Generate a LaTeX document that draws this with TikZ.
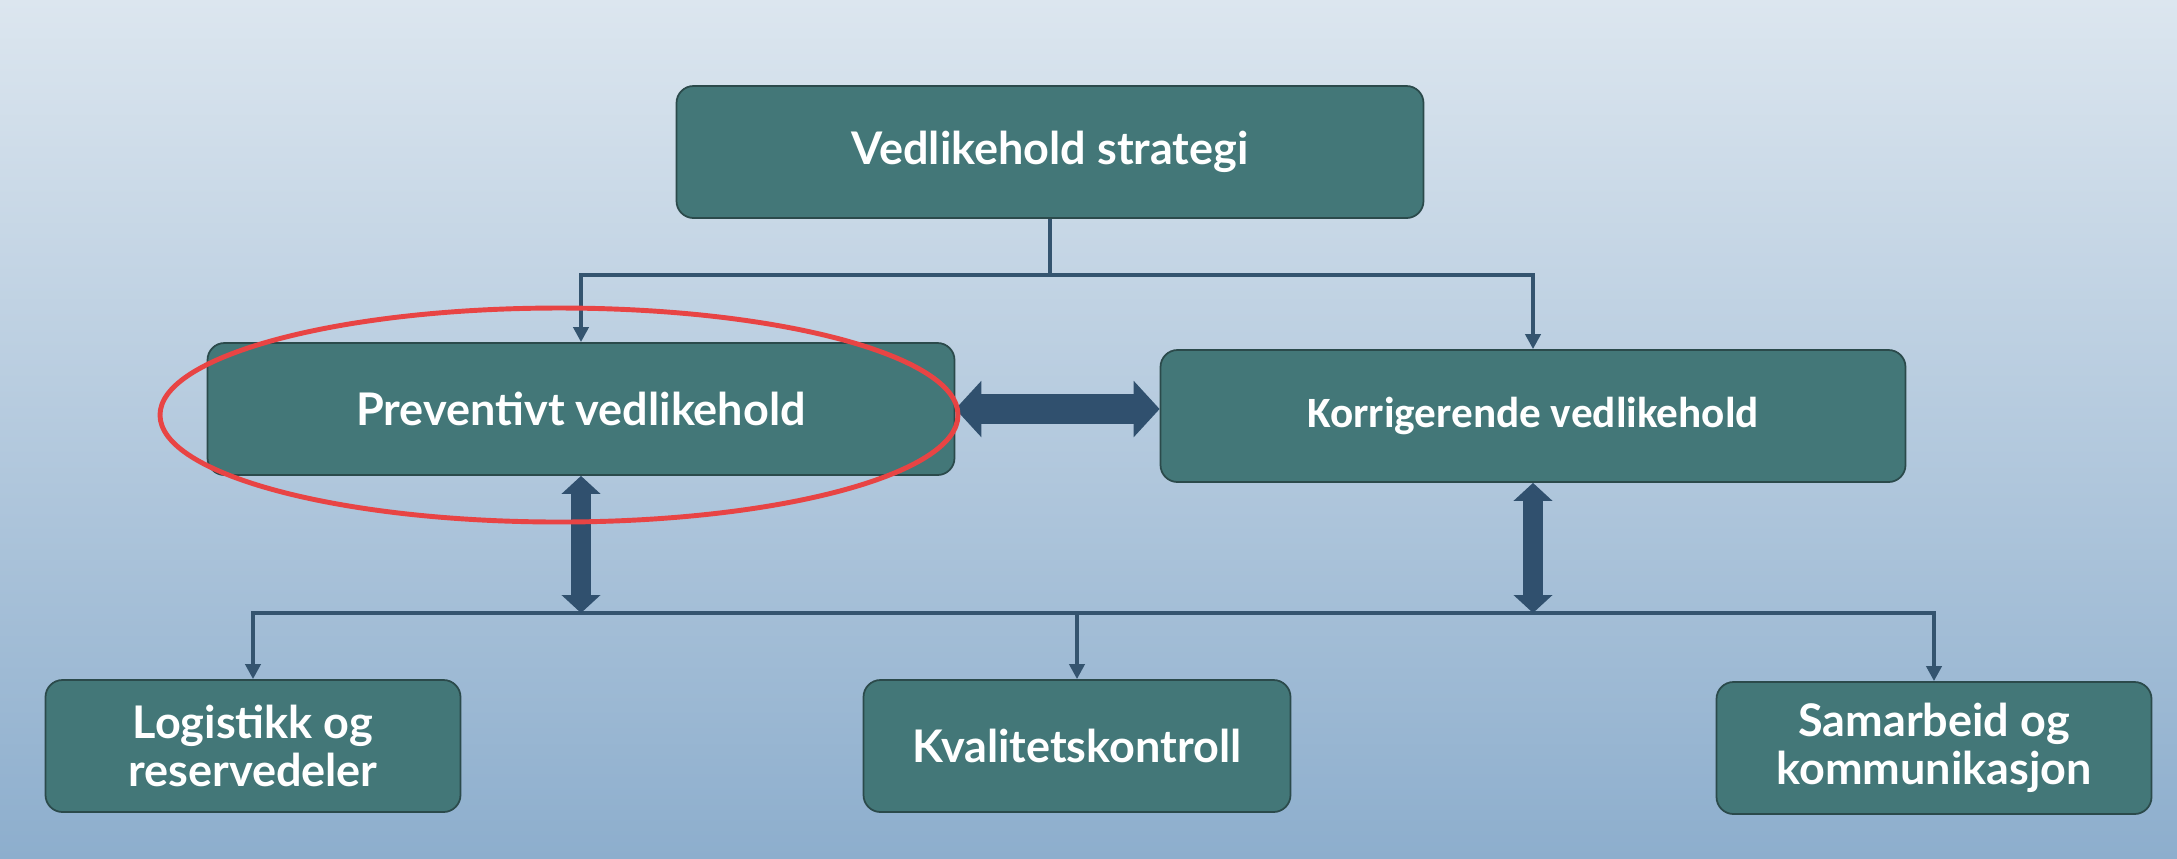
\documentclass[tikz,border=0pt]{standalone}
\usepackage{fontspec}
\setmainfont{Lato}
\newfontfamily\calfont{Carlito}
\usepackage{xcolor}
\usetikzlibrary{arrows.meta}

\definecolor{boxfill}{HTML}{437778}
\definecolor{boxline}{HTML}{2B4A4B}
\definecolor{linkblue}{HTML}{34546F}
\definecolor{bigblue}{HTML}{30506E}
\definecolor{bgtop}{HTML}{DCE6EF}
\definecolor{bgbottom}{HTML}{8DAECD}
\definecolor{markred}{HTML}{E84444}

\tikzset{
  box/.style={draw=boxline,line width=0.5pt,fill=boxfill,rounded corners=1.7mm,
    text=white,align=center,inner sep=0pt,minimum height=13.2mm,
    font=\bfseries\fontsize{12.8}{13.6}\selectfont},
  link/.style={draw=linkblue,line width=1.1pt,-{Triangle[width=1.5mm,length=1.5mm]}},
  plainlink/.style={draw=linkblue,line width=1.1pt},
  duplex/.style={draw=bigblue,line width=3mm,
    {Triangle[width=5.5mm,length=2.6mm]}-{Triangle[width=5.5mm,length=2.6mm]}},
  riser/.style={draw=bigblue,line width=2mm,
    {Triangle[width=3.8mm,length=1.8mm]}-{Triangle[width=3.8mm,length=1.8mm]}},
  highlight/.style={draw=markred,line width=1.4pt}
}

\begin{document}
\begin{tikzpicture}[x=0.1mm,y=-0.1mm]
  \shade[top color=bgtop,bottom color=bgbottom] (0,0) rectangle (2177,858);

  \node[box,minimum width=74.7mm] (strat) at (1050,152) {Vedlikehold strategi};
  \node[box,minimum width=74.7mm] (prev) at (581,409) {Preventivt vedlikehold};
  \node[box,minimum width=74.5mm,font=\calfont\bfseries\fontsize{12.3}{14}\selectfont] (korr) at (1533,416) {Korrigerende vedlikehold};
  \node[box,minimum width=41.5mm] (logi) at (253,746) {Logistikk og\\reservedeler};
  \node[box,minimum width=42.7mm] (kval) at (1077,746) {Kvalitetskontroll};
  \node[box,minimum width=43.5mm] (samar) at (1934,748) {Samarbeid og\\kommunikasjon};

  \coordinate (split) at (1050,275);
  \coordinate (bus) at (1077,613);

  \draw[plainlink] (strat.south) -- (split);
  \draw[link] (split) -| (prev.north);
  \draw[link] (split) -| (korr.north);

  \draw[link] (bus) -| (logi.north);
  \draw[link] (bus) -- (kval.north);
  \draw[link] (bus) -| (samar.north);

  \draw[duplex] (prev.east) -- (prev.east -| korr.west);
  \draw[riser] (prev.south) -- (prev.south |- bus);
  \draw[riser] (korr.south) -- (korr.south |- bus);

  \draw[highlight] (559,415) ellipse [x radius=39.9mm,y radius=10.7mm];
\end{tikzpicture}
\end{document}
